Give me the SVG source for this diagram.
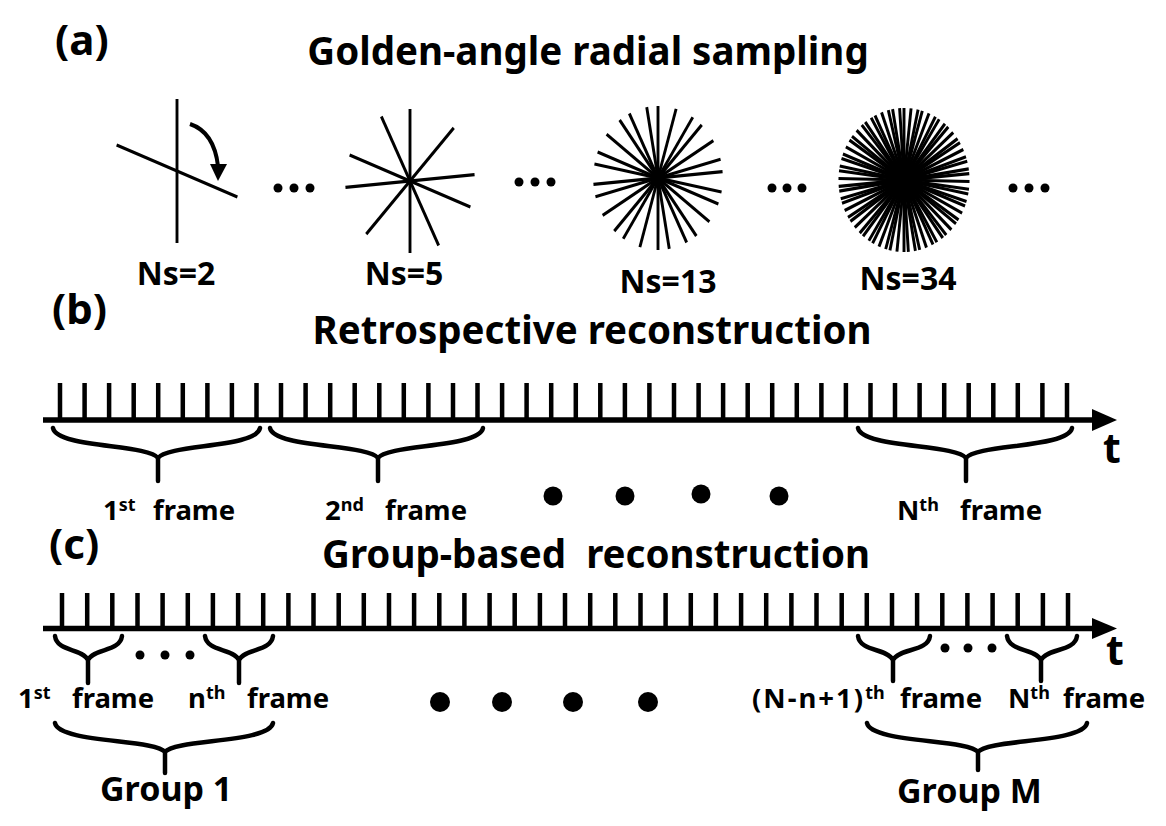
<svg xmlns="http://www.w3.org/2000/svg" width="1166" height="826" viewBox="0 0 1166 826">
<style>
text{font-family:"Noto Sans","Liberation Sans",sans-serif;font-weight:bold;fill:#000}
.panel{font-size:42px}
.title{font-size:38.5px;text-anchor:middle}
.ns{font-size:32px;text-anchor:middle}
.lbl{font-size:27.5px}
.sup{font-size:18px}
.grp{font-size:34px}
.t{font-size:41px}
.spk{stroke:#000;stroke-width:3.2}
.tick{stroke:#000;stroke-width:4.5;fill:none}
.axis{stroke:#000;stroke-width:5.5}
.brace{stroke:#000;stroke-width:4.5;fill:none;stroke-linecap:round;stroke-linejoin:round}
</style>
<defs>
<line id="sp" x1="0" y1="-72" x2="0" y2="72"/>
</defs>
<rect width="1166" height="826" fill="#fff"/>

<g id="panel-a">
<text class="panel" x="55" y="55">(a)</text>
<text class="title" x="588" y="65">Golden-angle radial sampling</text>
</g>

<g id="ns2">
<g class="spk" transform="translate(177,171) scale(0.9,1)">
<use href="#sp"/>
<use href="#sp" transform="rotate(111.246)"/>
</g>
<path d="M190,124 Q214,132 218,166" fill="none" stroke="#000" stroke-width="4"/>
<polygon points="210,164 227,164 218,181" fill="#000"/>
<text class="ns" x="176" y="285">Ns=2</text>
</g>

<g id="dots-a" fill="#000">
<circle cx="278" cy="188" r="4.5"/><circle cx="294" cy="188" r="4.5"/><circle cx="310" cy="188" r="4.5"/>
<circle cx="519" cy="182" r="4.5"/><circle cx="535" cy="182" r="4.5"/><circle cx="551" cy="182" r="4.5"/>
<circle cx="772" cy="188" r="4.5"/><circle cx="787" cy="188" r="4.5"/><circle cx="802" cy="188" r="4.5"/>
<circle cx="1013" cy="188" r="4.5"/><circle cx="1029" cy="188" r="4.5"/><circle cx="1045" cy="188" r="4.5"/>
</g>

<g id="ns5">
<g class="spk" transform="translate(410,181) scale(0.9,1)">
<use href="#sp"/>
<use href="#sp" transform="rotate(111.246)"/>
<use href="#sp" transform="rotate(222.492)"/>
<use href="#sp" transform="rotate(333.738)"/>
<use href="#sp" transform="rotate(444.984)"/>
</g>
<text class="ns" x="404" y="285">Ns=5</text>
</g>

<g id="ns13">
<g class="spk" transform="translate(658,178) scale(0.9,1)">
<use href="#sp"/>
<use href="#sp" transform="rotate(111.246)"/>
<use href="#sp" transform="rotate(222.492)"/>
<use href="#sp" transform="rotate(333.738)"/>
<use href="#sp" transform="rotate(444.984)"/>
<use href="#sp" transform="rotate(556.231)"/>
<use href="#sp" transform="rotate(667.477)"/>
<use href="#sp" transform="rotate(778.723)"/>
<use href="#sp" transform="rotate(889.969)"/>
<use href="#sp" transform="rotate(1001.215)"/>
<use href="#sp" transform="rotate(1112.461)"/>
<use href="#sp" transform="rotate(1223.707)"/>
<use href="#sp" transform="rotate(1334.953)"/>
</g>
<text class="ns" x="668" y="293">Ns=13</text>
</g>

<g id="ns34">
<g class="spk" transform="translate(904,180) scale(0.91,1)" stroke-width="3.4">
<use href="#sp"/>
<use href="#sp" transform="rotate(111.246)"/>
<use href="#sp" transform="rotate(222.492)"/>
<use href="#sp" transform="rotate(333.738)"/>
<use href="#sp" transform="rotate(444.984)"/>
<use href="#sp" transform="rotate(556.231)"/>
<use href="#sp" transform="rotate(667.477)"/>
<use href="#sp" transform="rotate(778.723)"/>
<use href="#sp" transform="rotate(889.969)"/>
<use href="#sp" transform="rotate(1001.215)"/>
<use href="#sp" transform="rotate(1112.461)"/>
<use href="#sp" transform="rotate(1223.707)"/>
<use href="#sp" transform="rotate(1334.953)"/>
<use href="#sp" transform="rotate(1446.199)"/>
<use href="#sp" transform="rotate(1557.445)"/>
<use href="#sp" transform="rotate(1668.692)"/>
<use href="#sp" transform="rotate(1779.938)"/>
<use href="#sp" transform="rotate(1891.184)"/>
<use href="#sp" transform="rotate(2002.430)"/>
<use href="#sp" transform="rotate(2113.676)"/>
<use href="#sp" transform="rotate(2224.922)"/>
<use href="#sp" transform="rotate(2336.168)"/>
<use href="#sp" transform="rotate(2447.414)"/>
<use href="#sp" transform="rotate(2558.660)"/>
<use href="#sp" transform="rotate(2669.906)"/>
<use href="#sp" transform="rotate(2781.153)"/>
<use href="#sp" transform="rotate(2892.399)"/>
<use href="#sp" transform="rotate(3003.645)"/>
<use href="#sp" transform="rotate(3114.891)"/>
<use href="#sp" transform="rotate(3226.137)"/>
<use href="#sp" transform="rotate(3337.383)"/>
<use href="#sp" transform="rotate(3448.629)"/>
<use href="#sp" transform="rotate(3559.875)"/>
<use href="#sp" transform="rotate(3671.121)"/>
</g>
<text class="ns" x="908" y="290">Ns=34</text>
</g>

<g id="panel-b">
<text class="panel" x="52" y="324">(b)</text>
<text class="title" x="592" y="344">Retrospective reconstruction</text>
</g>

<g id="timeline-b">
<line class="axis" x1="43" y1="420" x2="1096" y2="420"/>
<polygon points="1092,409 1117,420 1092,431" fill="#000"/>
<path class="tick" d="M60,383V420M84.6,383V420M109.1,383V420M133.7,383V420M158.2,383V420M182.8,383V420M207.4,383V420M231.9,383V420M256.5,383V420M281,383V420M305.6,383V420M330.2,383V420M354.7,383V420M379.3,383V420M403.8,383V420M428.4,383V420M453,383V420M477.5,383V420M502.1,383V420M526.6,383V420M551.2,383V420M575.8,383V420M600.3,383V420M624.9,383V420M649.4,383V420M674,383V420M698.6,383V420M723.1,383V420M747.7,383V420M772.2,383V420M796.8,383V420M821.4,383V420M845.9,383V420M870.5,383V420M895,383V420M919.6,383V420M944.2,383V420M968.7,383V420M993.3,383V420M1017.8,383V420M1042.4,383V420M1067,383V420"/>
<text class="t" x="1103" y="463">t</text>
</g>

<g id="connectors">
<path class="brace" d="M53,428 C57,448 148,444 158,458 M260,428 C256,448 168,444 158,458 L158,481"/>
<path class="brace" d="M270,428 C274,448 368,444 378,458 M483,428 C479,448 388,444 378,458 L378,481"/>
<path class="brace" d="M858,428 C862,448 956,444 966,458 M1072,428 C1068,448 976,444 966,458 L966,481"/>
<path class="brace" d="M55,636 C57,652 82,648 88,660 M122,636 C120,652 94,648 88,660 L88,683"/>
<path class="brace" d="M205,636 C207,652 233,648 239,660 M273,636 C271,652 245,648 239,660 L239,683"/>
<path class="brace" d="M858,636 C860,652 887,648 893,660 M930,636 C928,652 899,648 893,660 L893,681"/>
<path class="brace" d="M1007,636 C1009,652 1035,648 1041,660 M1077,636 C1075,652 1047,648 1041,660 L1041,681"/>
<path class="brace" d="M55,723 C59,743 155,739 165,752 M273,723 C269,743 175,739 165,752 L165,773"/>
<path class="brace" d="M867,723 C871,743 968,739 978,752 M1087,723 C1083,743 988,739 978,752 L978,770"/>
</g>

<g id="labels-b">
<text class="lbl" x="103" y="520">1<tspan class="sup" dy="-9">st</tspan><tspan x="153" y="520">frame</tspan></text>
<text class="lbl" x="325" y="520">2<tspan class="sup" dy="-9">nd</tspan><tspan x="385" y="520">frame</tspan></text>
<text class="lbl" x="897" y="520">N<tspan class="sup" dy="-9">th</tspan><tspan x="960" y="520">frame</tspan></text>
<g fill="#000">
<circle cx="553" cy="496" r="9.5"/><circle cx="625" cy="496" r="9.5"/><circle cx="701" cy="494" r="9.5"/><circle cx="779" cy="496" r="9.5"/>
</g>
</g>

<g id="panel-c">
<text class="panel" x="49" y="559">(c)</text>
<text class="title" x="596" y="568">Group-based&#160; reconstruction</text>
</g>

<g id="timeline-c">
<line class="axis" x1="43" y1="628.5" x2="1096" y2="628.5"/>
<polygon points="1092,618 1117,628.5 1092,639" fill="#000"/>
<path class="tick" d="M62,593V628M87.2,593V628M112.3,593V628M137.5,593V628M162.6,593V628M187.8,593V628M212.9,593V628M238.1,593V628M263.2,593V628M288.4,593V628M313.5,593V628M338.7,593V628M363.8,593V628M389,593V628M414.1,593V628M439.3,593V628M464.4,593V628M489.6,593V628M514.7,593V628M539.9,593V628M565,593V628M590.2,593V628M615.3,593V628M640.5,593V628M665.6,593V628M690.8,593V628M715.9,593V628M741.1,593V628M766.2,593V628M791.4,593V628M816.5,593V628M841.7,593V628M866.8,593V628M892,593V628M917.1,593V628M942.3,593V628M967.4,593V628M992.6,593V628M1017.7,593V628M1042.9,593V628M1068,593V628"/>
<text class="t" x="1106" y="665">t</text>
</g>

<g id="labels-c">
<text class="lbl" x="18" y="708">1<tspan class="sup" dy="-9">st</tspan><tspan x="72" y="708">frame</tspan></text>
<text class="lbl" x="188" y="708">n<tspan class="sup" dy="-9">th</tspan><tspan x="247" y="708">frame</tspan></text>
<text class="lbl" x="752" y="708" letter-spacing="2">(N-n+1)<tspan class="sup" letter-spacing="0" dy="-9">th</tspan><tspan letter-spacing="0" x="900" y="708">frame</tspan></text>
<text class="lbl" x="1008" y="708">N<tspan class="sup" dy="-9">th</tspan><tspan x="1063" y="708">frame</tspan></text>
<g fill="#000">
<circle cx="140" cy="655" r="4.5"/><circle cx="165" cy="655" r="4.5"/><circle cx="190" cy="655" r="4.5"/>
<circle cx="945" cy="648" r="4.5"/><circle cx="968" cy="648" r="4.5"/><circle cx="992" cy="648" r="4.5"/>
<circle cx="440" cy="702" r="10"/><circle cx="502" cy="702" r="10"/><circle cx="573" cy="702" r="10"/><circle cx="648" cy="702" r="10"/>
</g>
<text class="grp" x="100" y="801">Group 1</text>
<text class="grp" x="897" y="803">Group M</text>
</g>
</svg>
